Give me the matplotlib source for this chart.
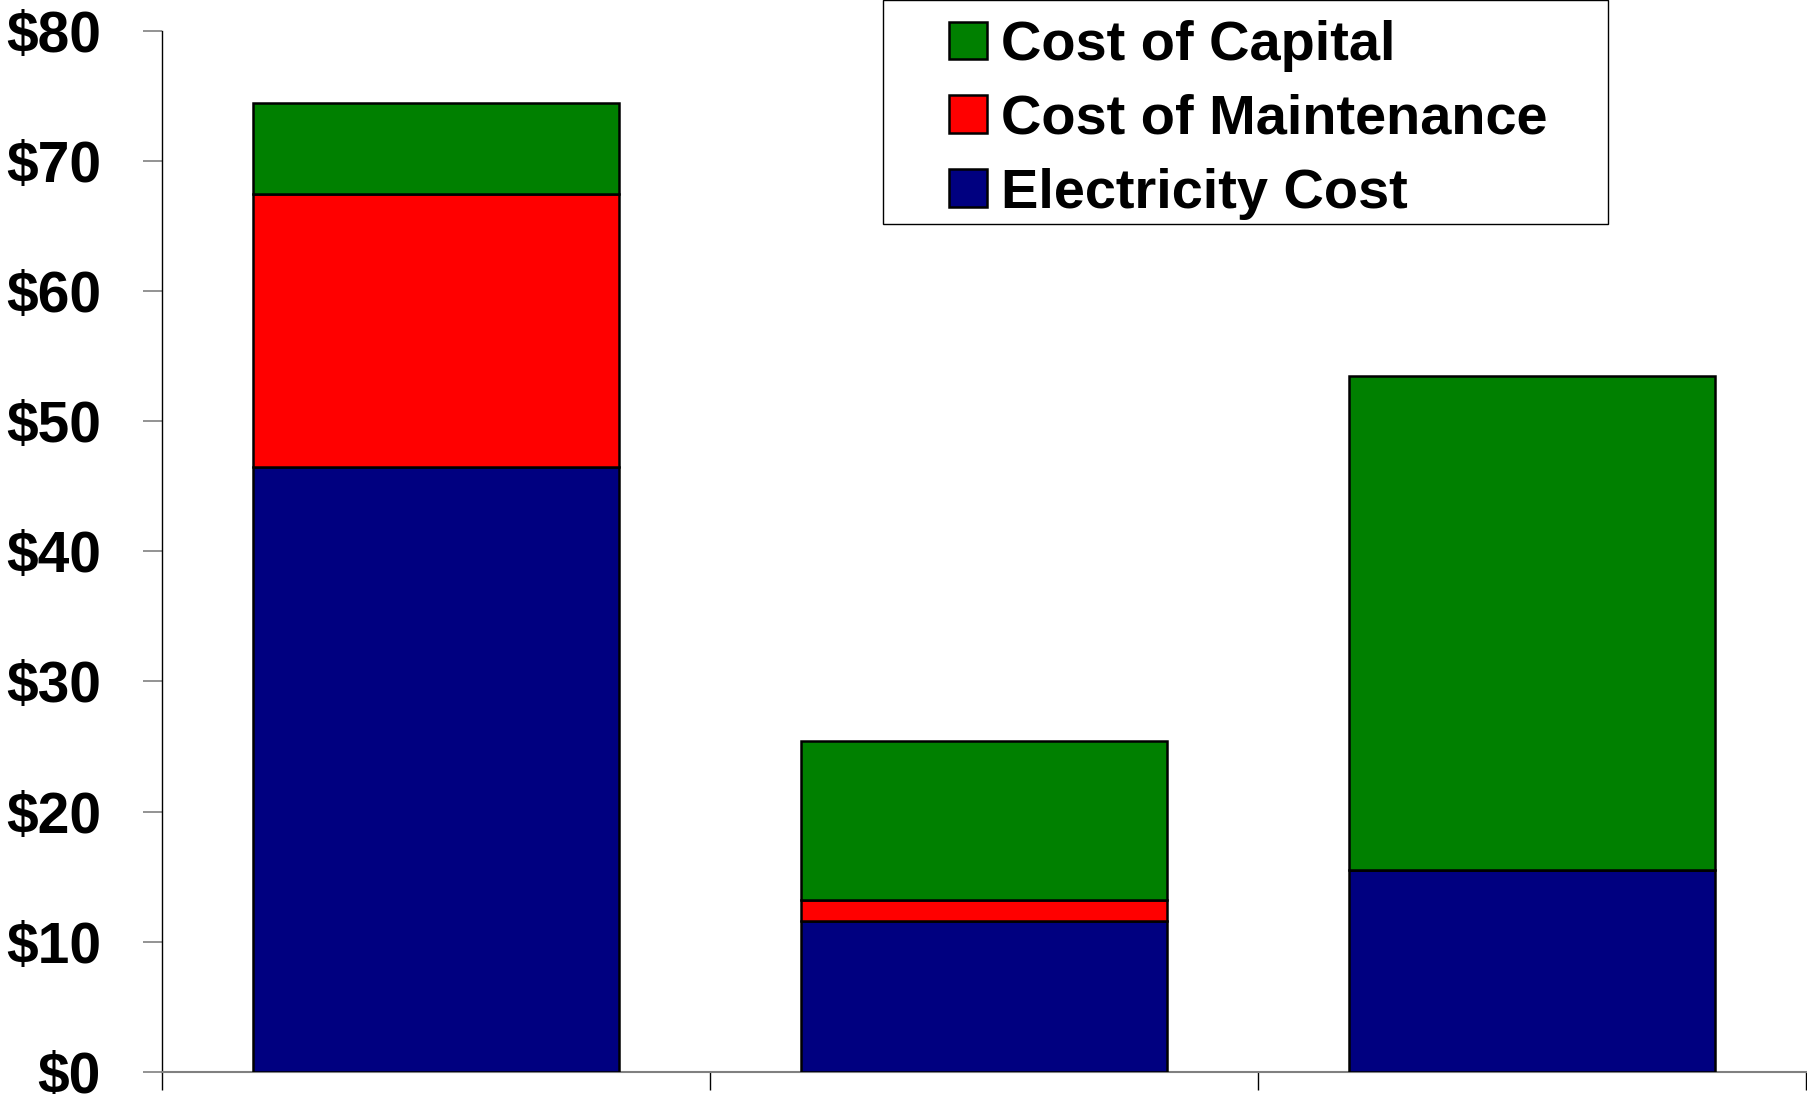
import matplotlib
matplotlib.use("Agg")
import matplotlib.pyplot as plt
from matplotlib.patches import Rectangle
from matplotlib.ticker import FixedLocator, NullFormatter

# ---- data ----
categories = ["Option A", "Option B", "Option C"]
electricity = [46.5, 11.6, 15.5]
maintenance = [21.0, 1.6, 0.0]
capital = [7.0, 12.2, 38.0]
y_ticks = [0, 10, 20, 30, 40, 50, 60, 70, 80]
y_tick_labels = ["$0", "$10", "$20", "$30", "$40", "$50", "$60", "$70", "$80"]
series_names = ["Electricity Cost", "Cost of Maintenance", "Cost of Capital"]
series_colors = ["#000080", "#FF0000", "#008000"]

plt.rcParams["font.family"] = ["Liberation Sans", "DejaVu Sans"]
plt.rcParams["font.weight"] = "bold"

W, H = 1808, 1094
fig = plt.figure(figsize=(W / 100, H / 100), dpi=100)
ax = fig.add_axes([161.7 / W, (H - 1071.7) / H, (1806 - 161.7) / W, (1071.7 - 31) / H])

x = list(range(len(categories)))
bw = 0.667
bottoms = [0.0] * len(categories)
handles = []
for vals, name, col in zip([electricity, maintenance, capital], series_names, series_colors):
    bars = ax.bar(x, vals, bw, bottom=bottoms, color=col, edgecolor="black",
                  linewidth=1.8, label=name, zorder=3)
    handles.append(bars)
    bottoms = [b + v for b, v in zip(bottoms, vals)]

ax.set_xlim(-0.5, len(categories) - 0.5)
ax.set_ylim(0, 80)
ax.set_yticks(y_ticks)
ax.set_yticklabels(y_tick_labels, fontsize=41, fontweight="bold")
ax.tick_params(axis="y", length=13.7, width=1.2, color="#808080", pad=30)

ax.set_xticks([])
ax.xaxis.set_minor_locator(FixedLocator([i - 0.5 for i in range(len(categories) + 1)]))
ax.xaxis.set_minor_formatter(NullFormatter())
ax.tick_params(axis="x", which="minor", length=13, width=1.0, color="black")

for s in ["top", "right"]:
    ax.spines[s].set_visible(False)
ax.spines["left"].set_color("black")
ax.spines["left"].set_linewidth(1.0)
ax.spines["bottom"].set_color("#808080")
ax.spines["bottom"].set_linewidth(1.5)

# legend frame
fig.patches.append(Rectangle((883 / W, 1 - 224 / H), (1608 - 883) / W, 224 / H,
                             transform=fig.transFigure, facecolor="white",
                             edgecolor="black", linewidth=1.0, zorder=5))

leg = fig.legend(handles[::-1], series_names[::-1], loc="upper left",
                 bbox_to_anchor=(949 / W, 1 - 20 / H), bbox_transform=fig.transFigure,
                 frameon=False, prop={"size": 40.3, "weight": "bold"},
                 handlelength=0.68, handleheight=0.65, handletextpad=0.25,
                 labelspacing=0.39, borderpad=0.0, borderaxespad=0)
leg.set_zorder(6)

fig.savefig("out.png", dpi=100)
